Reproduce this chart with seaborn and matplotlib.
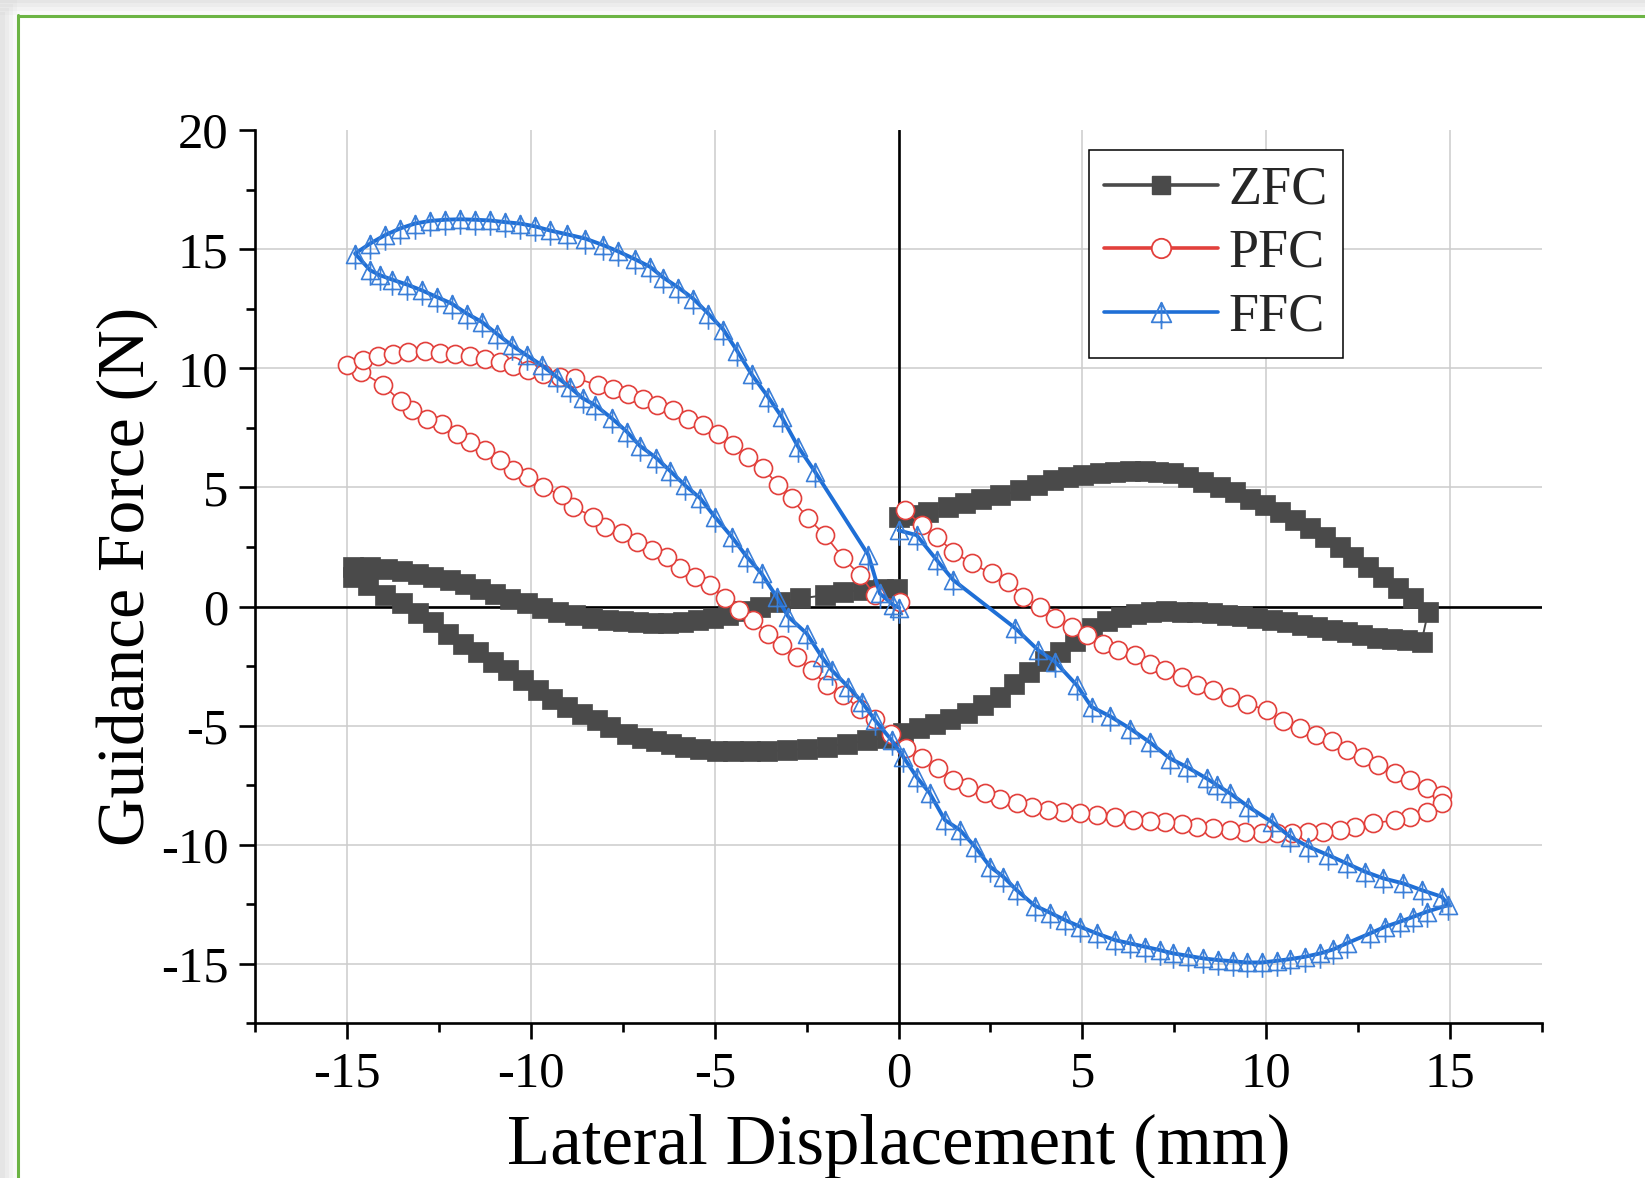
import numpy as np
import matplotlib
matplotlib.use("Agg")
import matplotlib.pyplot as plt
from matplotlib.path import Path
from matplotlib.lines import Line2D
from matplotlib.patches import Rectangle
import seaborn as sns

# ---------------- data ----------------
zfc_x = [0.00, 0.40, 0.81, 1.35, 1.80, 2.25, 2.76, 3.30, 3.76, 4.21, 4.62, 5.03, 5.48, 5.89, 6.30, 6.70,
         7.07, 7.47, 7.88, 8.29, 8.75, 9.15, 9.56, 9.97, 10.38, 10.79, 11.19, 11.60, 12.01, 12.37, 12.78,
         13.19, 13.60, 14.01, 14.41,
         14.23, 13.83, 13.42, 13.01, 12.60, 12.19, 11.79, 11.38, 10.97, 10.56, 10.15, 9.74, 9.34, 8.93,
         8.52, 8.11, 7.70, 7.29, 6.88, 6.47, 6.06, 5.66, 5.25, 4.80, 4.40, 3.98, 3.55, 3.15, 2.75, 2.30,
         1.85, 1.40, 0.99, 0.55, 0.13, -0.32, -0.87, -1.41, -1.96, -2.50, -3.04, -3.59, -4.05, -4.50,
         -4.95, -5.40, -5.80, -6.20, -6.60, -6.99, -7.40, -7.85, -8.21, -8.62, -9.03, -9.44, -9.80,
         -10.21, -10.62, -11.03, -11.44, -11.85, -12.25, -12.66, -13.07, -13.52, -13.98, -14.43, -14.84,
         -14.84, -14.38, -13.93, -13.52, -13.07, -12.66, -12.21, -11.80, -11.39, -10.98, -10.57, -10.12,
         -9.71, -9.26, -8.81, -8.35, -7.90, -7.49, -7.08, -6.67, -6.27, -5.86, -5.45, -5.04, -4.63,
         -4.23, -3.77, -3.23, -2.68, -2.00, -1.50, -0.96, -0.42, -0.05]
zfc_y = [3.77, 3.85, 3.98, 4.20, 4.35, 4.50, 4.67, 4.88, 5.09, 5.30, 5.44, 5.51, 5.59, 5.65, 5.69, 5.68,
         5.65, 5.59, 5.44, 5.23, 5.02, 4.81, 4.53, 4.26, 3.98, 3.63, 3.28, 2.93, 2.51, 2.09, 1.67,
         1.25, 0.76, 0.34, -0.22,
         -1.48, -1.42, -1.38, -1.30, -1.20, -1.08, -0.97, -0.86, -0.76, -0.66, -0.57, -0.49, -0.41, -0.34,
         -0.28, -0.24, -0.22, -0.20, -0.22, -0.30, -0.42, -0.60, -0.88, -1.45, -1.90, -2.30, -2.75, -3.25,
         -3.80, -4.15, -4.45, -4.72, -4.95, -5.10, -5.30, -5.50, -5.61, -5.75, -5.89, -5.97, -6.03, -6.06,
         -6.08, -6.08, -6.05, -5.98, -5.88, -5.75, -5.65, -5.52, -5.33, -5.05, -4.77, -4.49, -4.21, -3.86,
         -3.51, -3.09, -2.67, -2.32, -1.90, -1.55, -1.13, -0.65, -0.25, 0.13, 0.48, 0.90, 1.25,
         1.67, 1.67, 1.58, 1.50, 1.36, 1.26, 1.10, 0.94, 0.74, 0.52, 0.30, 0.14,
         -0.05, -0.22, -0.36, -0.46, -0.55, -0.62, -0.66, -0.70, -0.70, -0.66, -0.58, -0.46, -0.34,
         -0.20, -0.01, 0.20, 0.34, 0.48, 0.60, 0.69, 0.72, 0.72]

pfc_x = [0.17, 0.63, 1.04, 1.49, 1.99, 2.53, 2.99, 3.39, 3.85, 4.26, 4.71, 5.12, 5.57, 5.98, 6.43, 6.84,
         7.25, 7.70, 8.11, 8.56, 9.02, 9.47, 10.02, 10.47, 10.92, 11.35, 11.79, 12.19, 12.65, 13.05,
         13.51, 13.92, 14.37, 14.78,
         14.78, 14.37, 13.92, 13.51, 12.92, 12.42, 12.01, 11.56, 11.15, 10.70, 10.29, 9.88, 9.43, 9.02,
         8.56, 8.11, 7.70, 7.25, 6.84, 6.39, 5.89, 5.39, 4.94, 4.48, 4.07, 3.62, 3.21, 2.76, 2.35, 1.90,
         1.49, 1.08, 0.63, 0.20, -0.21, -0.64, -1.05, -1.50, -1.96, -2.36, -2.77, -3.18, -3.55, -3.95,
         -4.34, -4.72, -5.13, -5.54, -5.95, -6.31, -6.72, -7.13, -7.53, -7.99, -8.31, -8.85, -9.17,
         -9.67, -10.08, -10.48, -10.85, -11.25, -11.66, -12.02, -12.43, -12.84, -13.25, -13.55, -14.02,
         -14.62, -15.02,
         -14.57, -14.16, -13.75, -13.34, -12.89, -12.48, -12.07, -11.66, -11.25, -10.85, -10.48, -10.08,
         -9.67, -9.21, -8.81, -8.17, -7.76, -7.36, -6.95, -6.58, -6.13, -5.72, -5.31, -4.91, -4.50,
         -4.09, -3.68, -3.27, -2.91, -2.46, -2.00, -1.50, -1.05, -0.64, 0.04]
pfc_y = [4.05, 3.42, 2.93, 2.30, 1.81, 1.39, 1.04, 0.41, -0.01, -0.50, -0.85, -1.20, -1.55, -1.83, -2.04,
         -2.39, -2.67, -2.95, -3.30, -3.51, -3.79, -4.07, -4.35, -4.80, -5.08, -5.37, -5.65, -6.03, -6.31,
         -6.66, -7.00, -7.29, -7.63, -7.91,
         -8.26, -8.61, -8.82, -8.96, -9.10, -9.24, -9.38, -9.45, -9.45, -9.50, -9.52, -9.52, -9.45, -9.38,
         -9.31, -9.24, -9.13, -9.03, -9.01, -8.94, -8.82, -8.75, -8.68, -8.61, -8.54, -8.40, -8.26, -8.08,
         -7.84, -7.56, -7.28, -6.79, -6.37, -5.95, -5.33, -4.74, -4.30, -3.72, -3.30, -2.67, -2.11, -1.62,
         -1.13, -0.57, -0.15, 0.34, 0.90, 1.25, 1.60, 2.09, 2.37, 2.72, 3.07, 3.35, 3.77, 4.18, 4.67,
         5.02, 5.44, 5.72, 6.14, 6.56, 6.91, 7.26, 7.68, 7.89, 8.24, 8.62, 9.29, 9.85, 10.13,
         10.34, 10.51, 10.62, 10.69, 10.72, 10.66, 10.59, 10.51, 10.41, 10.27, 10.09, 9.92,
         9.78, 9.64, 9.60, 9.29, 9.15, 8.94, 8.73, 8.45, 8.24, 7.89, 7.61, 7.26, 6.77,
         6.28, 5.80, 5.09, 4.54, 3.70, 3.00, 2.02, 1.32, 0.48, 0.20]

ffc_x = [0.00, 0.49, 1.04, 1.49, 3.17, 3.80, 4.26, 4.85, 5.25, 5.75, 6.30, 6.84, 7.39, 7.84, 8.38, 8.66,
         9.02, 9.52, 10.15, 10.65, 11.15, 11.69, 12.19, 12.69, 13.19, 13.73, 14.23, 14.78, 14.96,
         14.37, 14.01, 13.64, 13.24, 12.83, 12.19, 11.83, 11.47, 11.06, 10.65, 10.29, 9.88, 9.47, 9.11,
         8.70, 8.29, 7.88, 7.47, 7.11, 6.70, 6.30, 5.89, 5.39, 4.94, 4.53, 4.12, 3.70, 3.21, 2.85, 2.49,
         2.08, 1.67, 1.26, 0.85, 0.49, 0.13, -0.19, -0.64, -1.00, -1.37, -1.82, -2.09, -2.50, -3.00,
         -3.32, -3.73, -4.13, -4.54, -5.00, -5.40, -5.81, -6.22, -6.60, -7.04, -7.40, -7.80, -8.25,
         -8.60, -8.94, -9.30, -9.71, -10.12, -10.53, -10.94, -11.34, -11.75, -12.16, -12.57, -12.98,
         -13.38, -13.79, -14.11, -14.38, -14.79,
         -14.38, -13.98, -13.57, -13.16, -12.75, -12.34, -11.93, -11.53, -11.12, -10.71, -10.30, -9.89,
         -9.49, -9.03, -8.53, -8.03, -7.63, -7.17, -6.76, -6.40, -5.99, -5.59, -5.18, -4.77, -4.40,
         -4.00, -3.55, -3.18, -2.73, -2.27, -0.82, -0.51, -0.14, 0.02]
ffc_y = [3.20, 3.00, 1.95, 1.11, -0.90, -1.83, -2.32, -3.30, -4.21, -4.60, -5.12, -5.70, -6.38, -6.73,
         -7.21, -7.49, -7.84, -8.40, -9.03, -9.66, -10.08, -10.43, -10.78, -11.13, -11.41, -11.62, -11.90,
         -12.18, -12.53,
         -12.81, -13.02, -13.23, -13.44, -13.72, -14.14, -14.39, -14.56, -14.70, -14.80, -14.87, -14.94,
         -14.94, -14.89, -14.84, -14.77, -14.66, -14.56, -14.42, -14.28, -14.14, -14.00, -13.72, -13.44,
         -13.16, -12.85, -12.55, -11.90, -11.34, -10.92, -10.08, -9.38, -8.96, -7.84, -7.15, -6.31,
         -5.61, -4.77, -4.00, -3.37, -2.67, -2.11, -1.13, -0.43, 0.41, 1.39, 2.09, 2.93, 3.77, 4.55,
         5.09, 5.70, 6.25, 6.75, 7.35, 7.90, 8.45, 8.75, 9.20, 9.64, 10.13, 10.55, 10.97, 11.46, 11.95,
         12.30, 12.72, 13.00, 13.28, 13.52, 13.73, 13.91, 14.12, 14.82,
         15.24, 15.59, 15.87, 16.08, 16.19, 16.24, 16.26, 16.24, 16.21, 16.14, 16.08, 15.96, 15.79,
         15.63, 15.45, 15.17, 14.91, 14.58, 14.26, 13.81, 13.39, 12.93, 12.30, 11.63, 10.75, 9.75,
         8.80, 7.96, 6.70, 5.65, 2.16, 0.55, 0.06, -0.05]

series_names = ["ZFC", "PFC", "FFC"]
x_ticks = [-15, -10, -5, 0, 5, 10, 15]
y_ticks = [-15, -10, -5, 0, 5, 10, 15, 20]

# ---------------- style ----------------
sns.set_theme(style="white")
plt.rcParams["font.family"] = ["Liberation Serif", "DejaVu Serif"]
plt.rcParams["axes.unicode_minus"] = False

C_ZFC = "#4a4a4a"
C_PFC = "#e2403c"
C_FFC = "#1f6fd6"
C_FFC_M = "#3b7fd8"

# triangle with vertical stroke (Origin-like symbol)
tri_path = Path([(0, 1), (-1, -1), (1, -1), (0, 1), (0, 1), (0, -1.7)],
                [Path.MOVETO, Path.LINETO, Path.LINETO, Path.CLOSEPOLY, Path.MOVETO, Path.LINETO])

fig = plt.figure(figsize=(16.45, 11.78), dpi=100)
fig.patch.set_facecolor("white")

# screenshot frame: soft grey shadow + green border on left / top
W, H = 1645.0, 1178.0
for i, a in enumerate([0.05, 0.06, 0.07, 0.08]):
    off = 4 * i
    fig.add_artist(Rectangle((0, 0), (17 - off) / W, 1 - off / H, transform=fig.transFigure,
                             facecolor="#9a9a9a", alpha=a, edgecolor="none", zorder=-5))
    fig.add_artist(Rectangle((0, 1 - (15 - off) / H), 1, (15 - off) / H, transform=fig.transFigure,
                             facecolor="#9a9a9a", alpha=a, edgecolor="none", zorder=-5))
fig.add_artist(Line2D([17.5 / W, 17.5 / W], [0, 1 - 15 / H], transform=fig.transFigure,
                      color="#6cb444", lw=2.2, zorder=-4))
fig.add_artist(Line2D([17.5 / W, 1], [1 - 15.5 / H, 1 - 15.5 / H], transform=fig.transFigure,
                      color="#6cb444", lw=2.2, zorder=-4))

ax = fig.add_axes([0.1553, 0.1312, 0.7819, 0.7583])
ax.set_facecolor("none")
ax.set_xlim(-17.5, 17.5)
ax.set_ylim(-17.5, 20)

# grid
for t in x_ticks:
    ax.axvline(t, color="#cccccc", lw=1.1, zorder=0.5)
for t in y_ticks[:-1]:
    ax.axhline(t, color="#cccccc", lw=1.1, zorder=0.5)
ax.axvline(0, color="black", lw=1.9, zorder=1)
ax.axhline(0, color="black", lw=1.9, zorder=1)

sns.lineplot(x=zfc_x, y=zfc_y, sort=False, estimator=None, errorbar=None, ax=ax,
             color=C_ZFC, lw=1.4, marker="s", markersize=14.5, markerfacecolor=C_ZFC,
             markeredgecolor=C_ZFC, markeredgewidth=0.5, zorder=2)
sns.lineplot(x=pfc_x, y=pfc_y, sort=False, estimator=None, errorbar=None, ax=ax,
             color=C_PFC, lw=1.2, marker="o", markersize=13, markerfacecolor="white",
             markeredgecolor=C_PFC, markeredgewidth=1.2, zorder=3)
sns.lineplot(x=ffc_x, y=ffc_y, sort=False, estimator=None, errorbar=None, ax=ax,
             color=C_FFC, lw=2.8, marker=tri_path, markersize=22, markerfacecolor="none",
             markeredgecolor=C_FFC_M, markeredgewidth=1.2, zorder=4)

# axes styling
for s in ["top", "right"]:
    ax.spines[s].set_visible(False)
for s in ["left", "bottom"]:
    ax.spines[s].set_color("black")
    ax.spines[s].set_linewidth(1.9)
    ax.spines[s].set_zorder(5)
ax.set_xticks(x_ticks)
ax.set_xticklabels([str(t) for t in x_ticks])
ax.set_yticks(y_ticks)
ax.set_yticklabels([str(t) for t in y_ticks])
ax.set_xticks(np.arange(-17.5, 17.6, 2.5), minor=True)
ax.set_yticks(np.arange(-17.5, 20.1, 2.5), minor=True)
ax.tick_params(axis="both", which="major", direction="out", length=11.5, width=1.9,
               color="black", labelsize=36.5, labelcolor="black", pad=8,
               bottom=True, left=True, top=False, right=False)
ax.tick_params(axis="both", which="minor", direction="out", length=6.5, width=1.9,
               color="black", bottom=True, left=True, top=False, right=False)
ax.set_xlabel("Lateral Displacement (mm)", fontsize=51, color="black", labelpad=12)
ax.set_ylabel("Guidance Force (N)", fontsize=48.5, color="black", labelpad=2)

handles = [
    Line2D([], [], color=C_ZFC, lw=2.6, marker="s", markersize=13, markerfacecolor=C_ZFC,
           markeredgecolor=C_ZFC),
    Line2D([], [], color=C_PFC, lw=2.6, marker="o", markersize=14, markerfacecolor="white",
           markeredgecolor=C_PFC, markeredgewidth=1.3),
    Line2D([], [], color=C_FFC, lw=2.6, marker=tri_path, markersize=24, markerfacecolor="none",
           markeredgecolor=C_FFC_M, markeredgewidth=1.3),
]
leg = ax.legend(handles, series_names, loc="upper left", bbox_to_anchor=(0.648, 0.978),
                borderaxespad=0, fontsize=39, frameon=True, fancybox=False, framealpha=1,
                edgecolor="black", handlelength=2.1, handletextpad=0.2, labelspacing=0.24,
                borderpad=0.28)
leg.get_frame().set_linewidth(1.1)
leg.set_zorder(10)

fig.savefig("out.png", dpi=100, facecolor="white")
